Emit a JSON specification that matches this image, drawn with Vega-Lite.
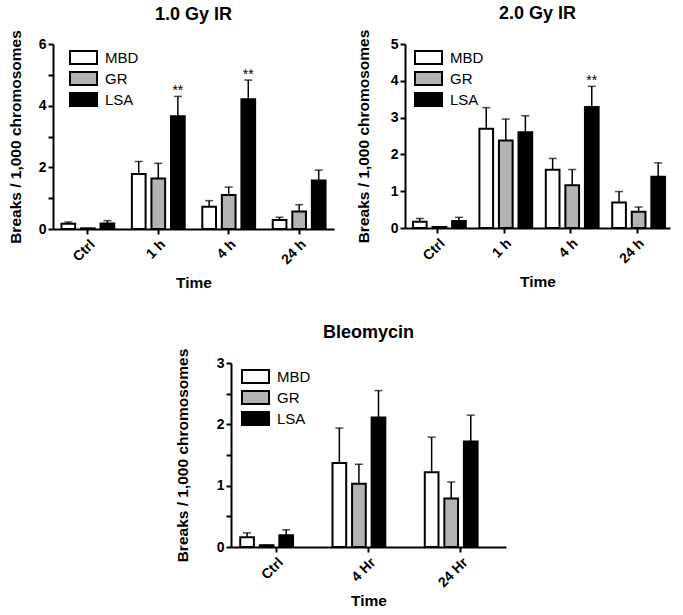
{
  "$schema": "https://vega.github.io/schema/vega-lite/v6.json",
  "padding": {"left": 8, "top": 5, "right": 5, "bottom": 0},
  "background": "white",
  "datasets": {
    "d": [
      {"panel": "A", "time": "Ctrl", "series": "MBD", "value": 0.17, "err": 0.23, "star": false},
      {"panel": "A", "time": "Ctrl", "series": "GR", "value": 0.02, "err": 0.02, "star": false},
      {"panel": "A", "time": "Ctrl", "series": "LSA", "value": 0.18, "err": 0.27, "star": false},
      {"panel": "A", "time": "1 h", "series": "MBD", "value": 1.78, "err": 2.19, "star": false},
      {"panel": "A", "time": "1 h", "series": "GR", "value": 1.64, "err": 2.13, "star": false},
      {"panel": "A", "time": "1 h", "series": "LSA", "value": 3.66, "err": 4.3, "star": true},
      {"panel": "A", "time": "4 h", "series": "MBD", "value": 0.72, "err": 0.92, "star": false},
      {"panel": "A", "time": "4 h", "series": "GR", "value": 1.1, "err": 1.36, "star": false},
      {"panel": "A", "time": "4 h", "series": "LSA", "value": 4.21, "err": 4.83, "star": true},
      {"panel": "A", "time": "24 h", "series": "MBD", "value": 0.29, "err": 0.38, "star": false},
      {"panel": "A", "time": "24 h", "series": "GR", "value": 0.57, "err": 0.79, "star": false},
      {"panel": "A", "time": "24 h", "series": "LSA", "value": 1.57, "err": 1.91, "star": false},
      {"panel": "B", "time": "Ctrl", "series": "MBD", "value": 0.17, "err": 0.26, "star": false},
      {"panel": "B", "time": "Ctrl", "series": "GR", "value": 0.03, "err": 0.03, "star": false},
      {"panel": "B", "time": "Ctrl", "series": "LSA", "value": 0.19, "err": 0.29, "star": false},
      {"panel": "B", "time": "1 h", "series": "MBD", "value": 2.7, "err": 3.27, "star": false},
      {"panel": "B", "time": "1 h", "series": "GR", "value": 2.38, "err": 2.96, "star": false},
      {"panel": "B", "time": "1 h", "series": "LSA", "value": 2.6, "err": 3.05, "star": false},
      {"panel": "B", "time": "4 h", "series": "MBD", "value": 1.58, "err": 1.89, "star": false},
      {"panel": "B", "time": "4 h", "series": "GR", "value": 1.16, "err": 1.59, "star": false},
      {"panel": "B", "time": "4 h", "series": "LSA", "value": 3.29, "err": 3.85, "star": true},
      {"panel": "B", "time": "24 h", "series": "MBD", "value": 0.69, "err": 0.99, "star": false},
      {"panel": "B", "time": "24 h", "series": "GR", "value": 0.44, "err": 0.57, "star": false},
      {"panel": "B", "time": "24 h", "series": "LSA", "value": 1.39, "err": 1.77, "star": false},
      {"panel": "C", "time": "Ctrl", "series": "MBD", "value": 0.16, "err": 0.23, "star": false},
      {"panel": "C", "time": "Ctrl", "series": "GR", "value": 0.03, "err": 0.03, "star": false},
      {"panel": "C", "time": "Ctrl", "series": "LSA", "value": 0.19, "err": 0.28, "star": false},
      {"panel": "C", "time": "4 Hr", "series": "MBD", "value": 1.37, "err": 1.94, "star": false},
      {"panel": "C", "time": "4 Hr", "series": "GR", "value": 1.03, "err": 1.35, "star": false},
      {"panel": "C", "time": "4 Hr", "series": "LSA", "value": 2.11, "err": 2.55, "star": false},
      {"panel": "C", "time": "24 Hr", "series": "MBD", "value": 1.22, "err": 1.79, "star": false},
      {"panel": "C", "time": "24 Hr", "series": "GR", "value": 0.79, "err": 1.06, "star": false},
      {"panel": "C", "time": "24 Hr", "series": "LSA", "value": 1.72, "err": 2.15, "star": false}
    ],
    "spacer": [{"s": 1}]
  },
  "data": {"name": "d"},
  "spacing": 32,
  "center": false,
  "resolve": {"scale": {"color": "independent", "y": "independent", "x": "independent"}, "legend": {"color": "independent"}},
  "vconcat": [
    {
      "spacing": 22,
      "resolve": {"scale": {"color": "independent", "y": "independent", "x": "independent"}, "legend": {"color": "independent"}},
      "hconcat": [
        {
          "title": "1.0 Gy IR",
          "width": 281,
          "height": 185,
          "transform": [{"filter": "datum.panel == 'A'"}],
          "encoding": {
            "x": {"field": "time", "type": "nominal", "sort": ["Ctrl", "1 h", "4 h", "24 h"], "title": "Time", "scale": {"paddingInner": 0.25, "paddingOuter": 0.12}},
            "xOffset": {"field": "series", "type": "nominal", "sort": ["MBD", "GR", "LSA"], "scale": {"paddingInner": 0.3}}
          },
          "layer": [
            {
              "mark": {"type": "bar", "stroke": "black", "strokeWidth": 2},
              "encoding": {
                "y": {"field": "value", "type": "quantitative", "title": "Breaks / 1,000 chromosomes", "scale": {"domain": [0, 6]}, "axis": {"titlePadding": 15, "values": [0, 1, 2, 3, 4, 5, 6], "labelExpr": "datum.value % 2 == 0 ? datum.label : ''"}},
                "color": {"field": "series", "type": "nominal", "scale": {"domain": ["MBD", "GR", "LSA"], "range": ["white", "#b3b3b3", "black"]}, "legend": {"orient": "none", "legendX": 23, "legendY": 6}}
              }
            },
            {
              "mark": {"type": "rule", "color": "black", "strokeWidth": 1.5},
              "encoding": {"y": {"field": "value", "type": "quantitative", "title": "Breaks / 1,000 chromosomes", "axis": {"titlePadding": 15, "values": [0, 1, 2, 3, 4, 5, 6], "labelExpr": "datum.value % 2 == 0 ? datum.label : ''"}}, "y2": {"field": "err"}}
            },
            {
              "mark": {"type": "tick", "color": "black", "thickness": 1.5, "size": 8},
              "encoding": {"y": {"field": "err", "type": "quantitative", "title": "Breaks / 1,000 chromosomes", "axis": {"titlePadding": 15, "values": [0, 1, 2, 3, 4, 5, 6], "labelExpr": "datum.value % 2 == 0 ? datum.label : ''"}}}
            },
            {
              "transform": [{"filter": "datum.star"}],
              "mark": {"type": "text", "text": "**", "fontSize": 14, "font": "Liberation Sans", "baseline": "bottom", "dy": 2, "color": "black"},
              "encoding": {"y": {"field": "err", "type": "quantitative", "title": "Breaks / 1,000 chromosomes", "axis": {"titlePadding": 15, "values": [0, 1, 2, 3, 4, 5, 6], "labelExpr": "datum.value % 2 == 0 ? datum.label : ''"}}}
            }
          ]
        },
        {
          "title": "2.0 Gy IR",
          "width": 265,
          "height": 184,
          "transform": [{"filter": "datum.panel == 'B'"}],
          "encoding": {
            "x": {"field": "time", "type": "nominal", "sort": ["Ctrl", "1 h", "4 h", "24 h"], "title": "Time", "scale": {"paddingInner": 0.25, "paddingOuter": 0.12}},
            "xOffset": {"field": "series", "type": "nominal", "sort": ["MBD", "GR", "LSA"], "scale": {"paddingInner": 0.3}}
          },
          "layer": [
            {
              "mark": {"type": "bar", "stroke": "black", "strokeWidth": 2},
              "encoding": {
                "y": {"field": "value", "type": "quantitative", "title": "Breaks / 1,000 chromosomes", "scale": {"domain": [0, 5]}, "axis": {"titlePadding": 19, "values": [0, 1, 2, 3, 4, 5]}},
                "color": {"field": "series", "type": "nominal", "scale": {"domain": ["MBD", "GR", "LSA"], "range": ["white", "#b3b3b3", "black"]}, "legend": {"orient": "none", "legendX": 16, "legendY": 6}}
              }
            },
            {
              "mark": {"type": "rule", "color": "black", "strokeWidth": 1.5},
              "encoding": {"y": {"field": "value", "type": "quantitative", "title": "Breaks / 1,000 chromosomes", "axis": {"titlePadding": 19, "values": [0, 1, 2, 3, 4, 5]}}, "y2": {"field": "err"}}
            },
            {
              "mark": {"type": "tick", "color": "black", "thickness": 1.5, "size": 8},
              "encoding": {"y": {"field": "err", "type": "quantitative", "title": "Breaks / 1,000 chromosomes", "axis": {"titlePadding": 19, "values": [0, 1, 2, 3, 4, 5]}}}
            },
            {
              "transform": [{"filter": "datum.star"}],
              "mark": {"type": "text", "text": "**", "fontSize": 14, "font": "Liberation Sans", "baseline": "bottom", "dy": 2, "color": "black"},
              "encoding": {"y": {"field": "err", "type": "quantitative", "title": "Breaks / 1,000 chromosomes", "axis": {"titlePadding": 19, "values": [0, 1, 2, 3, 4, 5]}}}
            }
          ]
        }
      ]
    },
    {
      "spacing": 0,
      "resolve": {"scale": {"color": "independent", "y": "independent", "x": "independent"}, "legend": {"color": "independent"}},
      "hconcat": [
        {
          "data": {"name": "spacer"},
          "width": 122,
          "height": 10,
          "mark": {"type": "point", "opacity": 0},
          "encoding": {}
        },
        {
          "title": "Bleomycin",
          "width": 275,
          "height": 184,
          "transform": [{"filter": "datum.panel == 'C'"}],
          "encoding": {
            "x": {"field": "time", "type": "nominal", "sort": ["Ctrl", "4 Hr", "24 Hr"], "title": "Time", "axis": {"titlePadding": 4}, "scale": {"paddingInner": 0.22, "paddingOuter": 0.1}},
            "xOffset": {"field": "series", "type": "nominal", "sort": ["MBD", "GR", "LSA"], "scale": {"paddingInner": 0.3}}
          },
          "layer": [
            {
              "mark": {"type": "bar", "stroke": "black", "strokeWidth": 2},
              "encoding": {
                "y": {"field": "value", "type": "quantitative", "title": "Breaks / 1,000 chromosomes", "scale": {"domain": [0, 3]}, "axis": {"titlePadding": 26, "values": [0, 0.5, 1, 1.5, 2, 2.5, 3], "labelExpr": "datum.value % 1 == 0 ? format(datum.value, 'd') : ''"}},
                "color": {"field": "series", "type": "nominal", "scale": {"domain": ["MBD", "GR", "LSA"], "range": ["white", "#b3b3b3", "black"]}, "legend": {"orient": "none", "legendX": 17, "legendY": 6}}
              }
            },
            {
              "mark": {"type": "rule", "color": "black", "strokeWidth": 1.5},
              "encoding": {"y": {"field": "value", "type": "quantitative", "title": "Breaks / 1,000 chromosomes", "axis": {"titlePadding": 26, "values": [0, 0.5, 1, 1.5, 2, 2.5, 3], "labelExpr": "datum.value % 1 == 0 ? format(datum.value, 'd') : ''"}}, "y2": {"field": "err"}}
            },
            {
              "mark": {"type": "tick", "color": "black", "thickness": 1.5, "size": 8},
              "encoding": {"y": {"field": "err", "type": "quantitative", "title": "Breaks / 1,000 chromosomes", "axis": {"titlePadding": 26, "values": [0, 0.5, 1, 1.5, 2, 2.5, 3], "labelExpr": "datum.value % 1 == 0 ? format(datum.value, 'd') : ''"}}}
            }
          ]
        }
      ]
    }
  ],
  "config": {
    "view": {"stroke": null},
    "font": "Liberation Sans",
    "title": {"font": "Liberation Sans", "fontSize": 18, "fontWeight": "bold", "color": "black", "anchor": "middle", "offset": 6},
    "axis": {"domainColor": "black", "domainWidth": 2, "tickColor": "black", "tickWidth": 2, "tickSize": 5, "labelFont": "Liberation Sans", "labelFontWeight": "bold", "labelFontSize": 14, "labelColor": "black", "labelOverlap": false, "titleFont": "Liberation Sans", "titleFontWeight": "bold", "titleFontSize": 15.5, "titleColor": "black", "grid": false},
    "axisX": {"labelAngle": -45, "titlePadding": 9, "labelPadding": 3},
    "legend": {"title": null, "symbolType": "M-2.08,-1H2.08V1H-2.08Z", "symbolSize": 169, "symbolStrokeColor": "black", "symbolStrokeWidth": 2, "labelFont": "Liberation Sans", "labelFontSize": 15, "labelColor": "black", "labelOffset": 14, "rowPadding": 0}
  }
}
